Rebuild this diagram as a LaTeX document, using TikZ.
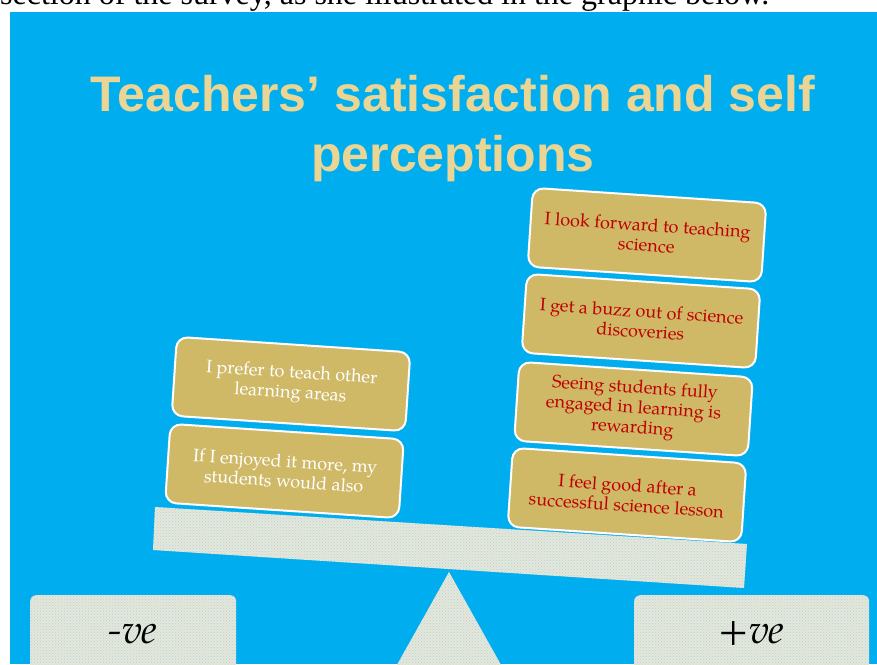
\documentclass[tikz,border=0pt]{standalone}
\usepackage{fontspec}
\setmainfont{Liberation Serif}
\newfontfamily\headfont{Liberation Sans}
\newfontfamily\cardfont{TeX Gyre Pagella}
\usetikzlibrary{patterns}
\definecolor{sky}{HTML}{00AEEF}
\definecolor{wheat}{HTML}{EBD594}
\definecolor{cardgold}{HTML}{CFB967}
\definecolor{cream}{HTML}{E9E6D6}
\definecolor{speck}{HTML}{9FD8EE}
\definecolor{wine}{HTML}{C00000}
\begin{document}
\begin{tikzpicture}[x=1pt,y=-1pt,
  card/.style={rectangle, rounded corners=11pt, draw=white, line width=2pt,
    fill=cardgold, minimum width=234pt, minimum height=79pt, rotate=-3.8,
    align=center, inner sep=4pt, font=\cardfont\fontsize{18}{20}\selectfont},
  negcard/.style={card, text=white},
  poscard/.style={card, text=wine},
  fabric/.style={fill=cream, postaction={pattern=crosshatch dots, pattern color=speck}},
  pan/.style={fabric, rectangle, rounded corners=6pt, anchor=north west,
    minimum height=90pt, inner sep=0pt},
  sign/.style={anchor=base, inner sep=0pt, font=\cardfont\itshape\fontsize{40}{44}\selectfont},
  headline/.style={anchor=base, inner sep=0pt, text=wheat,
    font=\headfont\bfseries\fontsize{50}{60}\selectfont}
]
\useasboundingbox (0,0) rectangle (877,664);
\clip (0,0) rectangle (877,664);

% sentence of the surrounding page, above the slide
\node[anchor=base west, inner sep=0pt, font=\fontsize{32}{38}\selectfont] (lead) at (0,4)
  {section of the survey, as she illustrated in the graphic below.};

% slide background
\fill[sky] (10,12) rectangle (877,664);

% heading
\node[headline] (title1) at (453,111) {Teachers’ satisfaction and self};
\node[headline] (title2) at (453,171) {perceptions};

% balance: fulcrum and tilted beam
\fill[fabric] (449,572) -- (505,672) -- (393,672) -- cycle;
\fill[fabric] (155,507) -- (747,544) -- (744,588) -- (153,550) -- cycle;

% statements on the light side
\node[negcard] (l1) at (291,384) {I prefer to teach other\\learning areas};
\node[negcard] (l2) at (284.5,471) {If I enjoyed it more, my\\students would also};

% statements on the heavy side
\node[poscard] (r1) at (647,235) {I look forward to teaching\\science};
\node[poscard] (r2) at (641,321) {I get a buzz out of science\\discoveries};
\node[poscard] (r3) at (633.5,409) {Seeing students fully\\engaged in learning is\\rewarding};
\node[poscard] (r4) at (627,495) {I feel good after a\\successful science lesson};

% scale pans
\node[pan, minimum width=206pt] (minus) at (30,595) {};
\node[pan, minimum width=235pt] (plus) at (634,595) {};
\node[sign] (minuslabel) at (133,643) {-ve};
\node[sign] (pluslabel) at (751.5,643) {+ve};
\end{tikzpicture}
\end{document}
